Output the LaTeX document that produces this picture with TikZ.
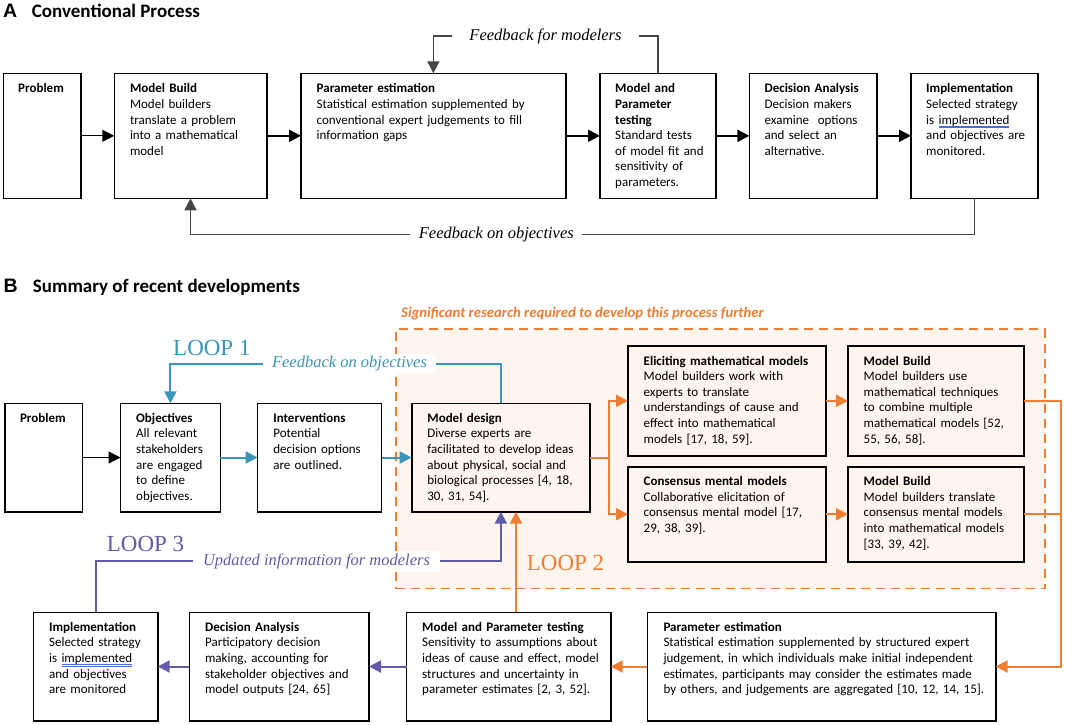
\documentclass[tikz,border=0pt]{standalone}
\usepackage{fontspec}
\setmainfont{Carlito}
\newfontfamily\timesfont{Liberation Serif}
\newfontfamily\arialfont{Liberation Sans}
\usetikzlibrary{arrows.meta}

\definecolor{loopone}{RGB}{56,150,186}
\definecolor{looptwo}{RGB}{240,125,50}
\definecolor{loopthree}{RGB}{96,92,168}
\definecolor{research}{RGB}{253,245,238}
\definecolor{fbgray}{RGB}{70,70,70}
\definecolor{spellblue}{RGB}{70,110,220}

\newcommand\boxfont{\fontsize{13}{15.6}\selectfont}
\newcommand\spell[1]{\setbox0=\hbox{#1}\rlap{\color{spellblue}\rule[-2.2pt]{\wd0}{0.5pt}}\rlap{\color{spellblue}\rule[-3.6pt]{\wd0}{0.5pt}}#1}

\tikzset{
  blk/.style={draw, line width=1.6pt, anchor=north west, inner sep=0pt, outer sep=0pt},
  txt/.style={anchor=base west, inner sep=0pt, align=left, text width=330pt, font=\boxfont},
  lbl/.style={fill=white, inner ysep=3pt, font=\timesfont\itshape\fontsize{16.5}{18}\selectfont},
  looplbl/.style={anchor=base west, inner sep=0pt, font=\timesfont\fontsize{23}{26}\selectfont},
  head/.style={anchor=base west, inner sep=0pt, font=\bfseries\fontsize{19}{22}\selectfont},
  letter/.style={anchor=base west, inner sep=0pt, font=\arialfont\bfseries\fontsize{19.5}{22}\selectfont},
  arr/.style={-{Triangle[length=12pt,width=12pt]}, line width=2pt},
  fb/.style={draw=fbgray, line width=1.5pt},
  region/.style={draw=looptwo, fill=research, line width=1.6pt, dash pattern=on 9pt off 6pt,
    anchor=north west, inner sep=0pt}
}

\begin{document}
\begin{tikzpicture}[x=1pt,y=-1pt]
  \fill[white] (0,0) rectangle (1065,724);
  \useasboundingbox (0,0) rectangle (1065,724);

  % panel A
  \node[letter] (lettA) at (3,17) {A};
  \node[head] (titleA) at (31.7,17) {Conventional Process};

  \node[blk, minimum width=77.6, minimum height=125] (probA) at (3.4,73.3) {};
  \node[blk, minimum width=152.4, minimum height=125] (buildA) at (114.3,73.3) {};
  \node[blk, minimum width=264.8, minimum height=125] (estA) at (301,73.3) {};
  \node[blk, minimum width=116, minimum height=125] (testA) at (600,73.3) {};
  \node[blk, minimum width=127.6, minimum height=125] (decA) at (749.4,73.3) {};
  \node[blk, minimum width=127, minimum height=125] (implA) at (911,73.3) {};

  \node[txt] (probA-t) at ([shift={(14.6,19.5)}]probA.north west) {\textbf{Problem}};
  \node[txt] (buildA-t) at ([shift={(15.5,19.5)}]buildA.north west)
    {\textbf{Model Build}\\Model builders\\translate a problem\\into a mathematical\\model};
  \node[txt] (estA-t) at ([shift={(15.5,19.5)}]estA.north west)
    {\textbf{Parameter estimation}\\Statistical estimation supplemented by\\conventional expert judgements to fill\\information gaps};
  \node[txt] (testA-t) at ([shift={(15,19.5)}]testA.north west)
    {\textbf{Model and}\\\textbf{Parameter}\\\textbf{testing}\\Standard tests\\of model fit and\\sensitivity of\\parameters.};
  \node[txt] (decA-t) at ([shift={(15,19.5)}]decA.north west)
    {\textbf{Decision Analysis}\\Decision makers\\examine\ \ options\\and select an\\alternative.};
  \node[txt] (implA-t) at ([shift={(15,19.5)}]implA.north west)
    {\textbf{Implementation}\\Selected strategy\\is \spell{implemented}\\and objectives are\\monitored.};

  \draw[arr, line width=1.3pt] (probA.east) -- (buildA.west);
  \draw[arr] (buildA.east) -- (estA.west);
  \draw[arr] (estA.east) -- (testA.west);
  \draw[arr] (testA.east) -- (decA.west);
  \draw[arr] (decA.east) -- (implA.west);

  \draw[fb, arr, line width=1.5pt] (testA.north) -- ++(0,-37.3) -| (estA.north);
  \draw[fb, arr, line width=1.5pt] (implA.south) -- ++(0,36) -| (buildA.south);
  \node[lbl, inner xsep=17pt] (fbmodA) at (545.5,36) {Feedback for modelers};
  \node[lbl, inner xsep=8.5pt] (fbobjA) at (496.3,234.3) {Feedback on objectives};

  % panel B
  \node[letter] (lettB) at (3.4,292) {B};
  \node[head] (titleB) at (32.7,292) {Summary of recent developments};

  \node[region, minimum width=649, minimum height=259.4] (resB) at (395,328.3) {};
  \node[anchor=base west, inner sep=0pt, text=looptwo, font=\bfseries\itshape\fontsize{14.7}{17}\selectfont]
    (resB-t) at (401,317.7) {Significant research required to develop this process further};

  \node[blk, minimum width=77.4, minimum height=108.4] (probB) at (5.2,403.3) {};
  \node[blk, minimum width=99.9, minimum height=108.4] (objB) at (120.5,403.3) {};
  \node[blk, minimum width=123.9, minimum height=108.4] (intB) at (257.6,403.3) {};
  \node[blk, minimum width=178.3, minimum height=108.4] (designB) at (411.7,403.3) {};
  \node[blk, minimum width=198, minimum height=109.7] (elicitB) at (628,346) {};
  \node[blk, minimum width=176, minimum height=109.7] (buildB1) at (848,346) {};
  \node[blk, minimum width=198, minimum height=95] (consB) at (628,466.7) {};
  \node[blk, minimum width=176, minimum height=95] (buildB2) at (848,466.7) {};
  \node[blk, minimum width=124.3, minimum height=108.4] (implB) at (33.4,612.3) {};
  \node[blk, minimum width=179.6, minimum height=108.4] (decB) at (189.4,612.3) {};
  \node[blk, minimum width=204.2, minimum height=108.4] (testB) at (406.5,612.3) {};
  \node[blk, minimum width=348.4, minimum height=108.4] (estB) at (647.3,612.3) {};

  \node[txt] (probB-t) at ([shift={(14.6,19)}]probB.north west) {\textbf{Problem}};
  \node[txt] (objB-t) at ([shift={(15.5,19)}]objB.north west)
    {\textbf{Objectives}\\All relevant\\stakeholders\\are engaged\\to define\\objectives.};
  \node[txt] (intB-t) at ([shift={(15.5,19)}]intB.north west)
    {\textbf{Interventions}\\Potential\\decision options\\are outlined.};
  \node[txt] (designB-t) at ([shift={(15.5,19)}]designB.north west)
    {\textbf{Model design}\\Diverse experts are\\facilitated to develop ideas\\about physical, social and\\biological processes [4, 18,\\30, 31, 54].};
  \node[txt] (elicitB-t) at ([shift={(15.5,19)}]elicitB.north west)
    {\textbf{Eliciting mathematical models}\\Model builders work with\\experts to translate\\understandings of cause and\\effect into mathematical\\models [17, 18, 59].};
  \node[txt] (buildB1-t) at ([shift={(15.5,19)}]buildB1.north west)
    {\textbf{Model Build}\\Model builders use\\mathematical techniques\\to combine multiple\\mathematical models [52,\\55, 56, 58].};
  \node[txt] (consB-t) at ([shift={(15.5,19)}]consB.north west)
    {\textbf{Consensus mental models}\\Collaborative elicitation of\\consensus mental model [17,\\29, 38, 39].};
  \node[txt] (buildB2-t) at ([shift={(15.5,19)}]buildB2.north west)
    {\textbf{Model Build}\\Model builders translate\\consensus mental models\\into mathematical models\\{}[33, 39, 42].};
  \node[txt] (implB-t) at ([shift={(15.5,19)}]implB.north west)
    {\textbf{Implementation}\\Selected strategy\\is \spell{implemented}\\and objectives\\are monitored};
  \node[txt] (decB-t) at ([shift={(15.5,19)}]decB.north west)
    {\textbf{Decision Analysis}\\Participatory decision\\making, accounting for\\stakeholder objectives and\\model outputs [24, 65]};
  \node[txt] (testB-t) at ([shift={(15.5,19)}]testB.north west)
    {\textbf{Model and Parameter testing}\\Sensitivity to assumptions about\\ideas of cause and effect, model\\structures and uncertainty in\\parameter estimates [2, 3, 52].};
  \node[txt] (estB-t) at ([shift={(16,19)}]estB.north west)
    {\textbf{Parameter estimation}\\Statistical estimation supplemented by structured expert\\judgement, in which individuals make initial independent\\estimates, participants may consider the estimates made\\by others, and judgements are aggregated [10, 12, 14, 15].};

  % loop 1
  \draw[arr, line width=1.3pt] (probB.east) -- (objB.west);
  \draw[arr, loopone] (objB.east) -- (intB.west);
  \draw[arr, loopone] (intB.east) -- (designB.west);
  \draw[arr, loopone] (designB.north) -- ++(0,-39.3) -| (objB.north);
  \node[lbl, text=loopone, inner xsep=9pt] (fbobjB) at (349.5,364) {Feedback on objectives};
  \node[looplbl, text=loopone] (loop1) at (173,355) {LOOP 1};

  % loop 2
  \draw[arr, looptwo] (designB.east) -- ++(19,0) coordinate (fork) |- (elicitB.west);
  \draw[arr, looptwo] (fork) |- (consB.west);
  \draw[arr, looptwo] (elicitB.east) -- (buildB1.west);
  \draw[arr, looptwo] (consB.east) -- (buildB2.west);
  \draw[arr, looptwo] (buildB1.east) -- ++(37,0) |- (estB.east);
  \draw[looptwo, line width=2pt] (buildB2.east) -- ++(37,0);
  \draw[arr, looptwo] (estB.west) -- (testB.east);
  \draw[arr, looptwo] ([xshift=7.4pt]testB.north) -- ([xshift=7.4pt]testB.north |- designB.south);
  \node[looplbl, text=looptwo] (loop2) at (526.7,570.7) {LOOP 2};

  % loop 3
  \draw[arr, loopthree] (testB.west) -- (decB.east);
  \draw[arr, loopthree] (decB.west) -- (implB.east);
  \draw[arr, loopthree] (implB.north) -- ++(0,-51) -| (designB.south);
  \node[lbl, text=loopthree, inner xsep=10pt] (updB) at (316.5,561.3) {Updated information for modelers};
  \node[looplbl, text=loopthree] (loop3) at (106.7,551.7) {LOOP 3};
\end{tikzpicture}
\end{document}
